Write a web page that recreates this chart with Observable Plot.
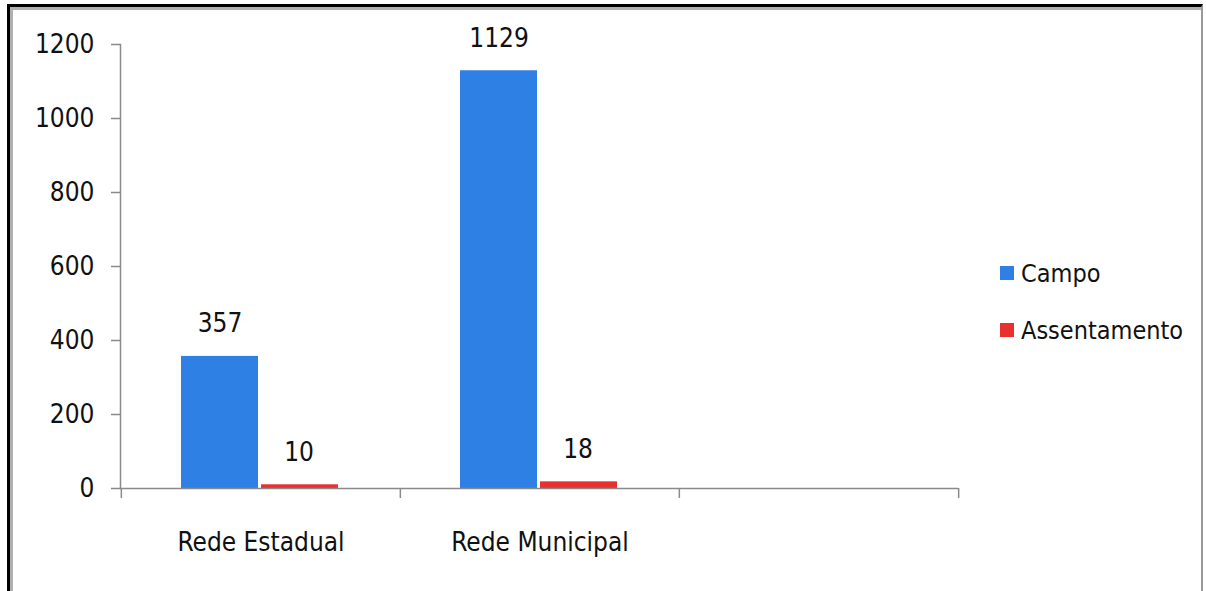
<!DOCTYPE html>
<html>
<head>
<meta charset="utf-8">
<script src="https://cdn.jsdelivr.net/npm/d3@7"></script>
<script src="https://cdn.jsdelivr.net/npm/@observablehq/plot@0.6"></script>
<style>
  html, body { margin: 0; padding: 0; background: #fff; }
  #wrap { position: relative; width: 1206px; height: 591px; overflow: hidden; font-family: "DejaVu Sans Condensed", sans-serif; }
  #outer { position: absolute; left: 7px; top: 4px; width: 1196px; height: 700px; border-top: 3px solid #000; border-left: 3px solid #000; border-right: 2px solid #999; box-sizing: border-box; }
  #inner { position: absolute; left: 0; top: 0; right: 0; bottom: 0; border-top: 3px solid #b0b0b0; border-left: 3px solid #b0b0b0; box-sizing: border-box; }
  #chart { position: absolute; left: 0; top: 0; }
  #legend { position: absolute; left: 1000px; top: 258px; font-size: 25px; color: #111; }
  .item { display: flex; align-items: center; height: 30px; margin-bottom: 27px; }
  .sw { width: 14px; height: 14px; margin-right: 7px; }
</style>
</head>
<body>
<div id="wrap">
  <div id="outer"><div id="inner"></div></div>
  <div id="chart"></div>
  <div id="legend"></div>
</div>
<script>
const categories = ["Rede Estadual", "Rede Municipal", " "];
const seriesNames = ["Campo", "Assentamento"];
const campo = [357, 1129];
const assentamento = [10, 18];
const yTicks = [0, 200, 400, 600, 800, 1000, 1200];
const colors = ["#2f80e4", "#e8302e"];

const campoData = campo.map((v, i) => ({category: categories[i], value: v}));
const assentData = assentamento.map((v, i) => ({category: categories[i], value: v}));
const fontFam = '"DejaVu Sans Condensed", sans-serif';
const axisColor = "#8a8a8a";

const chart = Plot.plot({
  width: 975,
  height: 591,
  marginLeft: 120,
  marginRight: 17,
  marginTop: 44,
  marginBottom: 103,
  style: {fontFamily: fontFam, fontSize: "26px", color: "#111", background: "transparent"},
  x: {domain: categories, padding: 0, axis: null},
  y: {domain: [0, 1200], axis: null},
  marks: [
    Plot.barY(campoData, {x: "category", y: "value", fill: colors[0], insetLeft: 60, insetRight: 142}),
    Plot.barY(assentData, {x: "category", y: "value", fill: colors[1], insetLeft: 140, insetRight: 62}),
    Plot.text(campoData, {x: "category", y: "value", text: d => String(d.value), dx: -41, dy: -24, lineAnchor: "bottom", fill: "#111", fontSize: 26}),
    Plot.text(assentData, {x: "category", y: "value", text: d => String(d.value), dx: 38, dy: -24, lineAnchor: "bottom", fill: "#111", fontSize: 26}),
    Plot.frame({anchor: "left", stroke: axisColor, strokeWidth: 1.5}),
    Plot.ruleY([0], {stroke: axisColor, strokeWidth: 1.5}),
    Plot.axisY({ticks: yTicks, tickSize: 9, tickPadding: 17, tickFormat: d => String(d), stroke: axisColor, strokeWidth: 1.5, fill: "#111", fontSize: 26, label: null}),
    Plot.axisX({tickSize: 0, tickPadding: 44, fill: "#111", fontSize: 26, label: null, tickFormat: d => d}),
    Plot.ruleX(categories, {x: d => d, dx: -279.33 / 2, y1: 0, y2: 0, insetBottom: -10, stroke: axisColor, strokeWidth: 1.5}),
    Plot.ruleX(categories.slice(-1), {x: d => d, dx: 279.33 / 2, y1: 0, y2: 0, insetBottom: -10, stroke: axisColor, strokeWidth: 1.5})
  ]
});
document.getElementById("chart").appendChild(chart);

const legend = document.getElementById("legend");
seriesNames.forEach((name, i) => {
  const row = document.createElement("div");
  row.className = "item";
  const sw = document.createElement("div");
  sw.className = "sw";
  sw.style.background = colors[i];
  const label = document.createElement("span");
  label.textContent = name;
  row.appendChild(sw);
  row.appendChild(label);
  legend.appendChild(row);
});
</script>
</body>
</html>
